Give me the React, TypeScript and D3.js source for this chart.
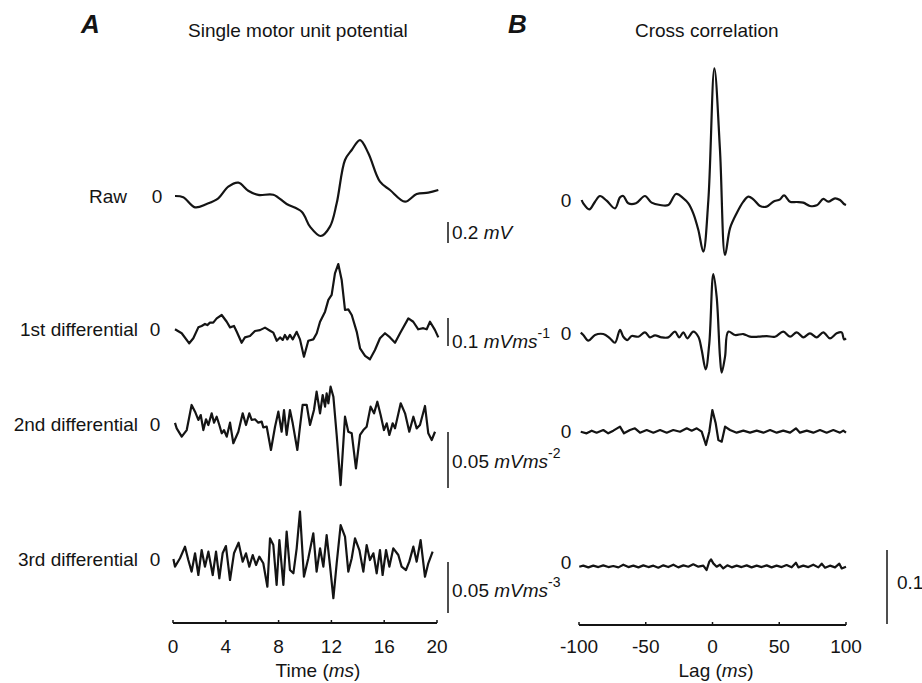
import React from "react";
import * as d3 from "d3";

// ---------- Panel A data (time in ms) ----------
const rawT = [0.15, 0.78, 1.67, 2.55, 3.43, 4.19, 4.95, 5.7, 6.46, 7.6, 8.61, 9.75, 10.38, 11.19, 11.89, 12.4, 13.03, 13.54, 14.17, 14.8, 15.68, 16.44, 17.58, 18.46, 19.34, 20.1];
const rawV = [0, -0.012, -0.108, -0.076, -0.022, 0.089, 0.127, 0.05, 0.01, 0.012, -0.076, -0.15, -0.292, -0.381, -0.292, -0.07, 0.343, 0.438, 0.533, 0.407, 0.136, 0.057, -0.054, 0.019, 0.032, 0.057];

const d1T = [0.15, 0.66, 1.23, 1.54, 1.92, 2.17, 2.42, 2.6, 2.8, 3.05, 3.31, 3.69, 4.07, 4.32, 4.62, 4.83, 5.2, 5.45, 5.83, 6.21, 6.59, 6.97, 7.35, 7.6, 7.86, 8.11, 8.31, 8.48, 8.66, 8.86, 9.07, 9.37, 9.62, 9.92, 10.25, 10.63, 10.89, 11.14, 11.52, 11.77, 12.02, 12.27, 12.52, 12.78, 13.03, 13.28, 13.54, 13.92, 14.17, 14.55, 14.92, 15.3, 15.68, 16.06, 16.44, 16.82, 17.2, 17.83, 18.2, 18.58, 18.96, 19.22, 19.47, 19.85, 20.1];
const d1V = [0, -0.014, -0.05, -0.032, 0.007, 0.012, 0.019, 0.015, 0.024, 0.024, 0.039, 0.051, 0.027, 0.007, 0.012, -0.009, -0.048, -0.029, -0.024, -0.006, -0.003, 0.006, -0.005, -0.012, -0.041, -0.029, -0.038, -0.02, -0.036, -0.02, -0.036, -0.009, -0.036, -0.098, -0.041, -0.036, -0.014, 0.027, 0.063, 0.105, 0.123, 0.2, 0.233, 0.176, 0.069, 0.071, 0.051, -0.009, -0.068, -0.095, -0.107, -0.074, -0.032, -0.014, -0.029, -0.048, -0.014, 0.039, 0.027, 0, 0.004, 0, 0.027, -0.003, -0.029];

const d2T = [0.15, 0.28, 0.66, 1.04, 1.41, 1.67, 1.92, 2.1, 2.3, 2.5, 2.68, 2.93, 3.11, 3.31, 3.51, 3.69, 3.86, 4.07, 4.32, 4.57, 4.95, 5.28, 5.53, 5.78, 5.96, 6.21, 6.46, 6.72, 6.84, 7.1, 7.42, 7.73, 7.98, 8.23, 8.41, 8.61, 8.86, 9.07, 9.42, 9.62, 9.82, 10.13, 10.38, 10.68, 10.88, 11.14, 11.34, 11.52, 11.64, 11.77, 11.94, 12.15, 12.4, 12.7, 13.03, 13.28, 13.54, 13.86, 14.17, 14.42, 14.67, 14.97, 15.23, 15.48, 15.73, 15.98, 16.19, 16.39, 16.64, 16.82, 17.25, 17.58, 17.9, 18.21, 18.46, 18.71, 19.09, 19.34, 19.6, 19.85];
const d2V = [0.001, -0.0039, -0.0113, -0.0054, 0.017, 0.011, 0.0036, 0.008, -0.0054, 0.0042, -0.0009, 0.0095, 0.0012, 0.0065, -0.0009, -0.0083, -0.0054, -0.0113, 0.0012, -0.0172, -0.0069, 0.0095, -0.0009, 0.0095, 0.0036, 0.0042, 0.0012, 0.0021, -0.003, -0.0024, -0.0232, -0.0024, 0.011, -0.0069, 0.0125, -0.0098, 0.0125, 0.0006, -0.0232, -0.0024, 0.017, 0.017, -0.0009, 0.0125, 0.0289, 0.0095, 0.0259, 0.0155, 0.0274, 0.0185, 0.0333, 0.0244, -0.0098, -0.0545, 0.0065, -0.0069, -0.0083, -0.0396, -0.0098, -0.0054, -0.0024, 0.0155, 0.0095, 0.0199, 0.008, -0.0054, 0.0006, -0.0098, 0.0006, -0.0039, 0.0185, 0.0095, -0.0069, 0.0065, -0.0039, -0.0009, 0.0161, -0.0083, -0.0143, -0.0069];

const d3T = [0.03, 0.15, 0.53, 0.91, 1.16, 1.41, 1.67, 1.92, 2.17, 2.42, 2.68, 3.01, 3.26, 3.51, 3.76, 4.01, 4.32, 4.62, 4.97, 5.28, 5.53, 5.78, 6.04, 6.29, 6.54, 6.84, 7.15, 7.35, 7.6, 7.85, 8.06, 8.36, 8.61, 8.86, 9.12, 9.37, 9.62, 9.92, 10.25, 10.63, 10.88, 11.14, 11.39, 11.64, 11.89, 12.15, 12.4, 12.7, 13.03, 13.28, 13.54, 13.79, 14.12, 14.42, 14.67, 14.92, 15.18, 15.43, 15.68, 15.88, 16.14, 16.39, 16.69, 17.07, 17.32, 17.65, 17.9, 18.21, 18.46, 18.76, 19.09, 19.34, 19.67];
const d3V = [0, -0.0075, 0.0007, 0.0121, -0.001, -0.0124, 0.0056, -0.0157, 0.0088, -0.0075, 0.0072, -0.0157, 0.0072, -0.0189, 0.0056, 0.0127, -0.0206, 0.0056, 0.016, -0.0026, 0.0056, -0.0075, 0.0039, -0.0059, 0.0023, -0.0042, -0.0272, 0.0203, 0.0137, -0.0255, 0.0186, -0.0255, 0.0268, -0.0108, -0.014, 0.0105, 0.0464, -0.0174, 0.0007, 0.0252, -0.0124, 0.0105, -0.0075, 0.0235, -0.0059, -0.0385, -0.0042, 0.0333, 0.0219, -0.0124, 0.0007, 0.0203, 0.0088, -0.0124, 0.0137, -0.001, 0.0056, -0.014, 0.0088, -0.0157, 0.0088, -0.0075, 0.0105, 0.0039, -0.0075, -0.0108, -0.0026, 0.0121, -0.0026, 0.0186, -0.0174, -0.0042, 0.0072];

// ---------- Panel B data (lag in ms) ----------
const cc0Lag = [-98, -96.8, -92.3, -88, -84.3, -79.3, -73, -69.3, -66.8, -63.1, -57.3, -50.6, -45.6, -39.3, -33.1, -27.3, -21.8, -18.1, -14.4, -10.6, -6.9, -3.1, 1.4, 5.6, 9.4, 13.1, 18.1, 23.1, 26.8, 30.6, 35.6, 40.6, 45.5, 50.6, 53.6, 58.1, 63.1, 68, 73, 78.1, 83, 86.7, 91.8, 95.5, 98.5, 100];
const cc0V = [0, -0.0045, -0.0126, -0.0023, 0.0054, -0.0009, -0.0113, 0.0036, 0.0054, -0.0045, -0.0045, 0.0054, -0.0036, -0.0068, -0.0068, 0.0081, 0.0023, -0.0045, -0.018, -0.0405, -0.0698, 0, 0.178, 0.0676, -0.0743, -0.0383, -0.018, -0.0023, 0.0045, 0.0009, -0.0081, -0.009, -0.0023, 0.0009, 0.0063, -0.0023, -0.0027, -0.0036, -0.0081, -0.0072, 0.0014, -0.0023, 0.0023, 0, -0.0054, -0.0068];

const cc1Lag = [-98.7, -96.8, -93, -88, -81.8, -76.8, -73, -69.3, -66.8, -63.8, -60.5, -55.6, -50.6, -46.8, -43.1, -38.1, -33.1, -28.1, -24.9, -21.8, -18.9, -14.4, -10.6, -8.1, -5.1, -2.4, 0.6, 3.1, 5.6, 6.9, 9.4, 11.8, 16.9, 23.1, 28.1, 34.3, 40.6, 46.8, 53, 58.1, 63.1, 68, 73, 78.1, 83, 88, 93, 96.8, 98.5, 100];
const cc1V = [0.0004, -0.0027, -0.0104, -0.0027, -0.0014, -0.0072, -0.0131, 0.0041, -0.005, -0.0095, -0.0041, -0.005, 0.0009, -0.0059, -0.0032, -0.0059, -0.0059, 0.0018, -0.0059, 0.0009, -0.0072, 0.0018, -0.005, -0.023, -0.0491, -0.0139, 0.0797, 0.0491, -0.032, -0.0536, -0.032, 0.0018, -0.0027, -0.0014, -0.005, -0.005, -0.0041, -0.005, 0.0018, -0.005, 0.0009, -0.0059, -0.0005, -0.0059, 0.0009, -0.0072, -0.0005, 0.0009, -0.0086, -0.0072];

const cc2Lag = [-98.7, -94.3, -90.5, -86.8, -81.8, -78.1, -74.3, -69.3, -66.3, -61.8, -58.1, -54.3, -49.3, -44.3, -39.3, -34.3, -29.4, -24.3, -19.3, -15.6, -11.8, -8.1, -4.9, -2.4, -0.1, 2.4, 4.4, 6.9, 9.4, 13.1, 18.1, 23.1, 28.1, 33.1, 38.1, 43.1, 48.1, 53, 58.1, 62.5, 65.5, 70.6, 75.5, 80.5, 85.5, 90.5, 95.5, 98, 100];
const cc2V = [0.0004, -0.0018, 0.0018, -0.0009, 0.0027, -0.0018, 0.0018, 0.0072, -0.0018, 0.0027, 0.005, -0.0009, 0.0027, -0.0009, 0.0027, -0.0009, 0.0027, 0.0004, 0.005, 0.0018, 0.005, 0.0004, -0.0176, 0.0004, 0.0297, 0.0117, -0.0108, -0.0131, 0.0072, 0.0027, -0.0009, 0.0018, -0.0009, 0.0018, -0.0009, 0.0027, -0.0009, 0.0018, -0.0009, 0.005, -0.0009, 0.0018, -0.0009, 0.0027, -0.0009, 0.0027, -0.0009, 0.0018, -0.0009];

const cc3Lag = [-99.8, -96.8, -93, -89.3, -85.5, -81.8, -78, -74.3, -70.5, -66.8, -63, -59.3, -55.5, -51.8, -48, -44.3, -40.6, -36.8, -33.1, -29.3, -25.6, -21.8, -18.1, -14.4, -10.6, -6.9, -4.4, -2.4, -1.1, 0.6, 3.1, 5.6, 8.1, 11.1, 14.4, 18.1, 21.8, 25.6, 29.3, 33.1, 36.8, 40.6, 44.3, 48, 51.8, 55.5, 59.3, 62.5, 64.3, 68, 71.8, 75.5, 79.3, 81.8, 84.3, 88, 91.8, 95, 96.8, 100];
const cc3V = [0, 0.0014, -0.0009, 0.0014, -0.0005, 0.0018, -0.0005, 0.0009, -0.0009, 0.0027, -0.0005, 0.0014, -0.0009, 0.0018, -0.0005, 0.0014, -0.0014, 0.0018, -0.0005, 0.0027, -0.0009, 0.0018, 0, 0.0032, 0, 0.0014, -0.0045, 0.0068, 0.0099, 0.0045, 0, 0.0027, -0.0023, 0.0018, -0.0009, 0.0014, -0.0005, 0.0018, -0.0009, 0.0014, -0.0005, 0.0018, -0.0009, 0.0014, -0.0005, 0.0023, -0.0009, 0.0054, -0.0009, 0.0014, -0.0005, 0.0027, -0.0009, 0.0041, -0.0014, 0.0014, -0.0009, 0.0041, -0.0023, 0];

// ---------- labels ----------
const rowLabels = ["Raw", "1st differential", "2nd differential", "3rd differential"];
const timeTicks = [0, 4, 8, 12, 16, 20];
const lagTicks = [-100, -50, 0, 50, 100];
const barValues = [0.2, 0.1, 0.05, 0.05];
const barUnits = ["mV", "mVms", "mVms", "mVms"];
const barSup = ["", "-1", "-2", "-3"];
const ccBarValue = 0.1;

const FONT = "'Liberation Sans', Arial, Helvetica, sans-serif";
const INK = "#141414";
const FS = 19;

export default function App() {
  const xA = d3.scaleLinear().domain([0, 20]).range([173, 437]);
  const xB = d3.scaleLinear().domain([-100, 100]).range([579, 846]);

  const aRows = [
    { base: 196, barPx: 21, barTop: 222, t: rawT, v: rawV, smooth: true, labelX: 127, zeroX: 157, textY: 203, barLabelY: 239 },
    { base: 329.3, barPx: 28, barTop: 318, t: d1T, v: d1V, smooth: false, labelX: 138, zeroX: 155, textY: 336, barLabelY: 348 },
    { base: 424, barPx: 56, barTop: 432, t: d2T, v: d2V, smooth: false, labelX: 138, zeroX: 155, textY: 431, barLabelY: 468 },
    { base: 559, barPx: 51, barTop: 562, t: d3T, v: d3V, smooth: false, labelX: 138, zeroX: 155, textY: 566, barLabelY: 597 },
  ];
  const bRows = [
    { base: 200, lag: cc0Lag, v: cc0V, smooth: true, zeroY: 207 },
    { base: 333, lag: cc1Lag, v: cc1V, smooth: true, zeroY: 340 },
    { base: 432, lag: cc2Lag, v: cc2V, smooth: false, zeroY: 438 },
    { base: 566.7, lag: cc3Lag, v: cc3V, smooth: false, zeroY: 569 },
  ];
  const ccPx = 74;

  return (
    <svg width={922} height={683} style={{ position: "absolute", left: 0, top: 0, background: "#fff" }} fontFamily={FONT}>
      <rect width={922} height={683} fill="#fff" />
      <text x={81} y={33} fontSize={26} fontWeight="bold" fontStyle="italic" fill={INK}>A</text>
      <text x={508} y={33} fontSize={26} fontWeight="bold" fontStyle="italic" fill={INK}>B</text>
      <text x={188} y={37} fontSize={FS} fill={INK}>Single motor unit potential</text>
      <text x={635} y={37} fontSize={FS} fill={INK}>Cross correlation</text>

      {aRows.map((r, i) => {
        const y = d3.scaleLinear().domain([0, barValues[i]]).range([r.base, r.base - r.barPx]);
        const pts = r.t.map((t, k) => [t, r.v[k]] as [number, number]);
        const line = d3.line<[number, number]>().x((d) => xA(d[0])).y((d) => y(d[1]))
          .curve(r.smooth ? d3.curveCatmullRom.alpha(0.5) : d3.curveLinear);
        return (
          <g key={"a" + i}>
            <path d={line(pts) || ""} fill="none" stroke={INK} strokeWidth={2.2} strokeLinejoin="round" />
            <text x={r.labelX} y={r.textY} fontSize={FS} textAnchor="end" fill={INK}>{rowLabels[i]}</text>
            <text x={r.zeroX} y={r.textY} fontSize={FS} textAnchor="middle" fill={INK}>0</text>
            <line x1={448} x2={448} y1={r.barTop} y2={r.barTop + r.barPx} stroke={INK} strokeWidth={1.5} />
            <text x={452} y={r.barLabelY} fontSize={FS} fill={INK}>
              {barValues[i] + " "}
              <tspan fontStyle="italic">{barUnits[i]}</tspan>
              {barSup[i] ? <tspan fontSize={14} dy={-10}>{barSup[i]}</tspan> : null}
            </text>
          </g>
        );
      })}

      <line x1={xA(0)} x2={xA(20)} y1={623} y2={623} stroke={INK} strokeWidth={2} />
      {timeTicks.map((t) => (
        <g key={"tt" + t}>
          <line x1={xA(t)} x2={xA(t)} y1={623} y2={620} stroke={INK} strokeWidth={1.5} />
          <text x={xA(t)} y={653} fontSize={FS} textAnchor="middle" fill={INK}>{t}</text>
        </g>
      ))}
      <text x={318} y={677} fontSize={FS} textAnchor="middle" fill={INK}>
        Time (<tspan fontStyle="italic">ms</tspan>)
      </text>

      {bRows.map((r, i) => {
        const y = d3.scaleLinear().domain([0, ccBarValue]).range([r.base, r.base - ccPx]);
        const pts = r.lag.map((l, k) => [l, r.v[k]] as [number, number]);
        const line = d3.line<[number, number]>().x((d) => xB(d[0])).y((d) => y(d[1]))
          .curve(r.smooth ? d3.curveCatmullRom.alpha(0.5) : d3.curveLinear);
        return (
          <g key={"b" + i}>
            <path d={line(pts) || ""} fill="none" stroke={INK} strokeWidth={2.2} strokeLinejoin="round" />
            <text x={566} y={r.zeroY} fontSize={FS} textAnchor="middle" fill={INK}>0</text>
          </g>
        );
      })}
      <line x1={887} x2={887} y1={550} y2={550 + ccPx} stroke={INK} strokeWidth={1.5} />
      <text x={897} y={589} fontSize={FS} fill={INK}>{ccBarValue}</text>

      <line x1={xB(-100)} x2={xB(100)} y1={625} y2={625} stroke={INK} strokeWidth={2} />
      {lagTicks.map((t) => (
        <g key={"lt" + t}>
          <line x1={xB(t)} x2={xB(t)} y1={625} y2={622} stroke={INK} strokeWidth={1.5} />
          <text x={xB(t)} y={653} fontSize={FS} textAnchor="middle" fill={INK}>{t}</text>
        </g>
      ))}
      <text x={716} y={677} fontSize={FS} textAnchor="middle" fill={INK}>
        Lag (<tspan fontStyle="italic">ms</tspan>)
      </text>
    </svg>
  );
}
